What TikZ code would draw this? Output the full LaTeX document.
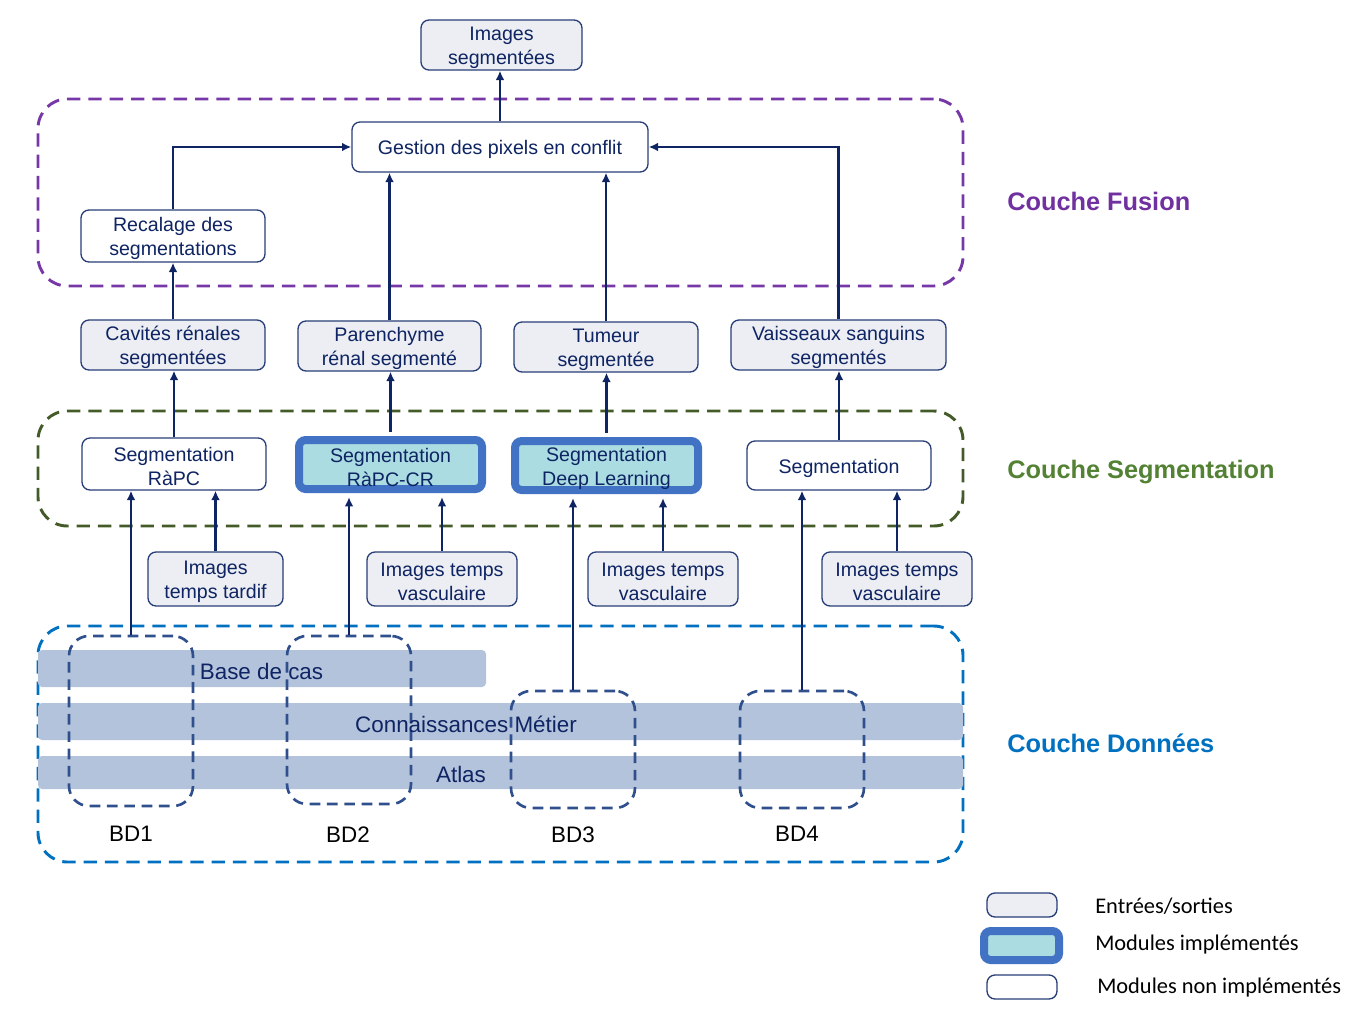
\documentclass[tikz,border=0pt]{standalone}
\usepackage{fontspec}
\setmainfont{Liberation Sans}
\newfontfamily\legendfont{Carlito}
\usetikzlibrary{arrows.meta}
\newcommand\tstrut{\rule{0pt}{15pt}}
\definecolor{navy}{RGB}{14,36,99}
\definecolor{boxline}{RGB}{40,62,120}
\definecolor{iofill}{RGB}{236,238,243}
\definecolor{implblue}{RGB}{66,114,196}
\definecolor{implfill}{RGB}{170,220,226}
\definecolor{fusionc}{RGB}{118,56,166}
\definecolor{fusiontxt}{RGB}{112,48,160}
\definecolor{segc}{RGB}{68,90,40}
\definecolor{segtxt}{RGB}{84,130,53}
\definecolor{datac}{RGB}{0,112,192}
\definecolor{bandc}{RGB}{180,195,220}
\definecolor{bdc}{RGB}{47,80,140}
\tikzset{
 sz/.style 2 args={minimum width=#1*0.75pt, minimum height=#2*0.75pt},
 base/.style={rounded corners=6pt, inner sep=0pt, align=center, text=navy, font=\fontsize{14.7}{18}\selectfont},
 iobox/.style={base, draw=boxline, line width=1pt, fill=iofill},
 modbox/.style={base, draw=boxline, line width=1pt, fill=white},
 implbox/.style={base, draw=implblue, line width=6pt, fill=implfill, rounded corners=5pt},
 conn/.style={draw=navy, line width=2.2pt, -{Latex[length=7pt,width=6.5pt]}},
 layer/.style={line width=2.2pt, dash pattern=on 10pt off 6pt, rounded corners=22pt, inner sep=0pt},
 bdbox/.style={draw=bdc, line width=2pt, dash pattern=on 8pt off 5pt, rounded corners=15pt, inner sep=0pt},
 band/.style={fill=bandc, rounded corners=3pt, inner sep=0pt},
 layerlabel/.style={anchor=west, inner sep=0pt, font=\fontsize{19}{22}\selectfont\bfseries},
 bdlabel/.style={font=\fontsize{16.8}{20}\selectfont, text=black},
 bandtext/.style={font=\fontsize{16.8}{20}\selectfont, text=navy},
 legtext/.style={anchor=west, inner sep=0pt, font=\legendfont\fontsize{16.8}{20}\selectfont, text=black},
}
\begin{document}
\begin{tikzpicture}[x=0.75pt,y=-0.75pt]
\useasboundingbox (0,0) rectangle (1364,1025);
% layers
\node[layer, draw=fusionc, sz={925}{187}] (fusion) at (500.5,192.5) {};
\node[layer, draw=segc, sz={925}{115}] (seglayer) at (500.5,468.5) {};
\node[layer, draw=datac, sz={925}{236}] (datalayer) at (500.5,744) {};
% bands
\node[band, sz={448}{37}] (bcas) at (262,668.5) {};
\node[band, sz={925}{37}] (bcon) at (500.5,721.5) {};
\node[band, sz={925}{33}] (batl) at (500.5,772.5) {};
% BD boxes
\node[bdbox, sz={124}{170}] (bd1) at (131,721) {};
\node[bdbox, sz={124}{168}] (bd2) at (349,720) {};
\node[bdbox, sz={124}{117}] (bd3) at (573,749.5) {};
\node[bdbox, sz={124}{117}] (bd4) at (802,749.5) {};
\node[bandtext] (tcas) at (261.5,671) {Base de cas};
\node[bandtext] (tcon) at (466,724) {Connaissances Métier};
\node[bandtext] (tatl) at (461,774) {Atlas};
\node[bdlabel] (l1) at (131,834) {BD1};
\node[bdlabel] (l2) at (348,835) {BD2};
\node[bdlabel] (l3) at (573,835) {BD3};
\node[bdlabel] (l4) at (797,834) {BD4};
% nodes
\node[iobox, sz={161}{50}] (imgseg) at (501.5,45) {\tstrut Images\\segmentées};
\node[modbox, sz={296}{50}] (ges) at (500,147) {\tstrut Gestion des pixels en conflit};
\node[modbox, sz={184}{52}] (rec) at (173,236) {\tstrut Recalage des\\segmentations};
\node[iobox, sz={184}{50}] (cav) at (173,345) {\tstrut Cavités rénales\\segmentées};
\node[iobox, sz={183}{50}] (par) at (389.5,346) {\tstrut Parenchyme\\rénal segmenté};
\node[iobox, sz={184}{50}] (tum) at (606,347) {\tstrut Tumeur\\segmentée};
\node[iobox, sz={215}{50}] (vai) at (838.5,345) {\tstrut Vaisseaux sanguins\\segmentés};
\node[modbox, sz={184}{52}] (sega) at (174,464) {\tstrut Segmentation\\RàPC};
\node[implbox, sz={183}{49}] (segb) at (390.5,464.5) {\tstrut Segmentation\\RàPC-CR};
\node[implbox, sz={183}{49}] (segc) at (606.5,465.5) {\tstrut Segmentation\\Deep Learning};
\node[modbox, sz={184}{49}] (segd) at (839,465.5) {\tstrut Segmentation};
\node[iobox, sz={135}{54}] (inA) at (215.5,579) {\tstrut Images\\temps tardif};
\node[iobox, sz={150}{54}] (inB) at (442,579) {\tstrut Images temps\\vasculaire};
\node[iobox, sz={150}{54}] (inC) at (663,579) {\tstrut Images temps\\vasculaire};
\node[iobox, sz={150}{54}] (inD) at (897,579) {\tstrut Images temps\\vasculaire};
% layer labels
\node[layerlabel, text=fusiontxt] (cf) at (1007,201) {Couche Fusion};
\node[layerlabel, text=segtxt] (cs) at (1007,472) {Couche Segmentation};
\node[layerlabel, text=datac] (cd) at (1007,743) {Couche Données};
% arrows
\draw[conn] (ges.north) -- (ges.north |- imgseg.south);
\draw[conn] (rec.north) |- (ges.west);
\draw[conn] (vai.north) |- (ges.east);
\draw[conn] (par.north) -- (par.north |- ges.south);
\draw[conn] (tum.north) -- (tum.north |- ges.south);
\draw[conn] (cav.north) -- (cav.north |- rec.south);
\draw[conn] (sega.north) -- (sega.north |- cav.south);
\draw[conn, shorten <=3pt] (segb.north) -- (segb.north |- par.south);
\draw[conn, shorten <=3pt] (segc.north) -- (segc.north |- tum.south);
\draw[conn] (segd.north) -- (segd.north |- vai.south);
\draw[conn] (inA.north) -- (inA.north |- sega.south);
\draw[conn, shorten >=3pt] (inB.north) -- (inB.north |- segb.south);
\draw[conn, shorten >=3pt] (inC.north) -- (inC.north |- segc.south);
\draw[conn] (inD.north) -- (inD.north |- segd.south);
\draw[conn] (bd1.north) -- (bd1.north |- sega.south);
\draw[conn, shorten >=3pt] (bd2.north) -- (bd2.north |- segb.south);
\draw[conn, shorten >=3pt] (bd3.north) -- (bd3.north |- segc.south);
\draw[conn] (bd4.north) -- (bd4.north |- segd.south);
% legend
\node[iobox, sz={70}{24}] (lg1) at (1022,905) {};
\node[implbox, sz={75}{29}] (lg2) at (1021.5,945.5) {};
\node[modbox, sz={70}{24}] (lg3) at (1022,987) {};
\node[legtext] (lt1) at (1095,906) {Entrées/sorties};
\node[legtext] (lt2) at (1095,945) {Modules implémentés};
\node[legtext] (lt3) at (1097,988) {Modules non implémentés};
\end{tikzpicture}
\end{document}
